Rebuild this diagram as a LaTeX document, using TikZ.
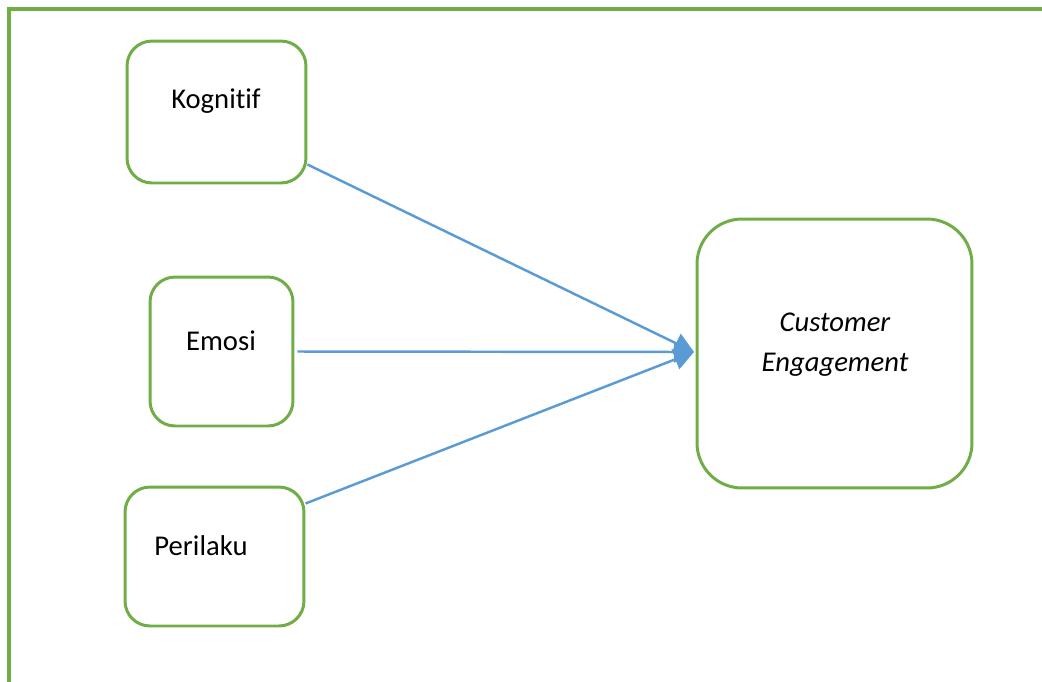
\documentclass[tikz,border=0pt]{standalone}
\usepackage{fontspec}
\setmainfont{Carlito}[Ligatures=NoCommon]
\usetikzlibrary{arrows.meta,calc}
\definecolor{boxGreen}{RGB}{112,173,71}
\definecolor{arrowBlue}{RGB}{91,155,213}

\begin{document}
\begin{tikzpicture}[
    x=0.02cm, y=-0.02cm,
    box/.style={rectangle, draw=boxGreen, line width=1.7pt, rounded corners=0.5cm, inner sep=0pt},
    txt/.style={font=\fontsize{16.3}{22.7}\selectfont, inner sep=0pt},
    arrow/.style={-{Triangle[length=0.4cm,width=0.42cm]}, draw=arrowBlue, fill=arrowBlue, line width=1.4pt}
]
    \useasboundingbox (0,0) rectangle (1042,681);

    % Outer frame
    \draw[boxGreen, line width=2.2pt] (9,690) -- (9,9) -- (1050,9);

    % Dimensions of engagement
    \node[box, minimum width=3.58cm, minimum height=2.84cm] (kog) at (216.5,112) {};
    \node[txt] (kogtxt) at (216,101) {Kognitif};

    \node[box, minimum width=2.86cm, minimum height=2.98cm] (emo) at (221.5,351.5) {};
    \node[txt] (emotxt) at (221,341) {Emosi};

    \node[box, minimum width=3.58cm, minimum height=2.78cm] (per) at (214.5,556.5) {};
    \node[txt] (pertxt) at (201,546) {Perilaku};

    % Outcome
    \node[box, rounded corners=0.9cm, minimum width=5.5cm, minimum height=5.38cm] (ce) at (834.5,353.5) {};
    \node[txt, align=center] (cetxt) at (835,345) {\itshape Customer\\\itshape Engagement};

    \coordinate (tip) at (694,352);

    \draw[arrow] ([yshift=0.4cm]kog.south east) -- (tip);
    \draw[arrow] ([xshift=0.06cm]emo.east) -- (tip);
    \draw[arrow] ([yshift=-0.36cm]per.north east) -- (tip);
\end{tikzpicture}
\end{document}
